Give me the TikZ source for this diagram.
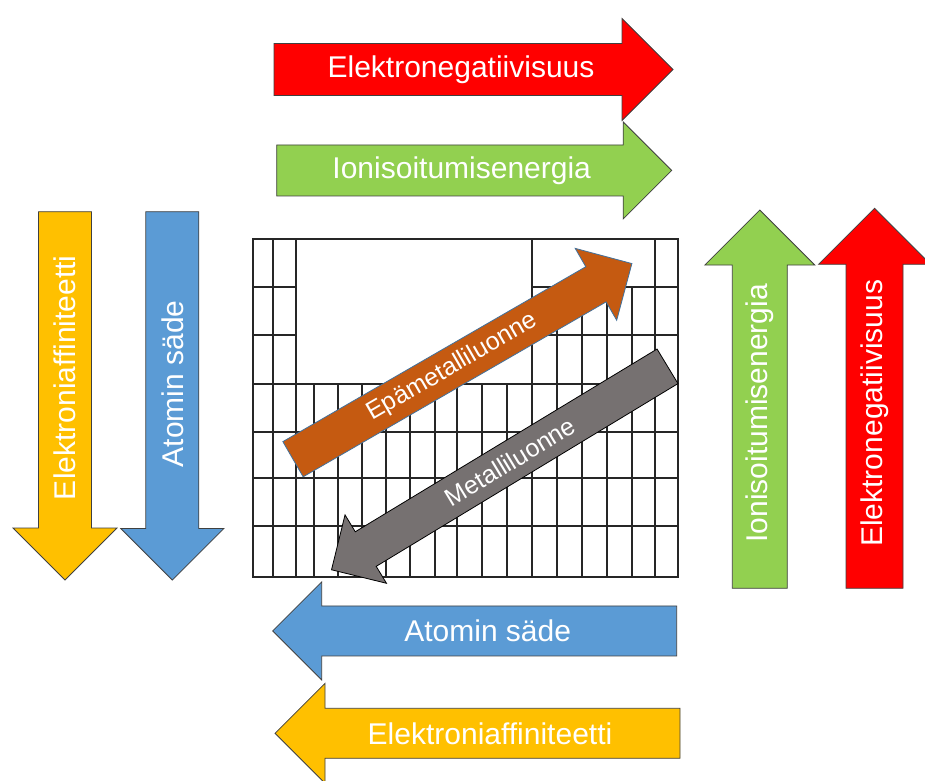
\documentclass[tikz,border=0pt]{standalone}
\usepackage{fontspec}
\setmainfont{Liberation Sans}
\usetikzlibrary{calc}

\definecolor{enred}{HTML}{FF0000}
\definecolor{iegreen}{HTML}{92D050}
\definecolor{eayellow}{HTML}{FFC000}
\definecolor{asblue}{HTML}{5B9BD5}
\definecolor{eporange}{HTML}{C55A11}
\definecolor{megrey}{HTML}{767171}
\definecolor{outblue}{HTML}{41719C}

% block arrow pointing along local x: #1 length, #2 half shaft, #3 half head, #4 style
\newcommand{\blockarrow}[4]{%
  \filldraw[#4] (0,-#2) -- ({#1-#3},-#2) -- ({#1-#3},-#3) -- (#1,0)
    -- ({#1-#3},#3) -- ({#1-#3},#2) -- (0,#2) -- cycle;}

\begin{document}
\begin{tikzpicture}[x=1pt,y=-1pt,
  gridline/.style={draw=black!85,line width=1.2pt},
  arrowbox/.style={draw=black!75,line width=0.8pt},
  arrowtext/.style={text=white,inner sep=0pt,font=\fontsize{30}{36}\selectfont},
  diagtext/.style={text=white,inner sep=0pt,font=\fontsize{25}{30}\selectfont}]

\path[fill=white,use as bounding box] (0,0) rectangle (925,780);

% periodic table
\draw[gridline] (253,239) rectangle (678,577);
\foreach \yy in {384,432,478,526}
  \draw[gridline] (253,\yy) -- (678,\yy);
\foreach \yy in {287,335} {
  \draw[gridline] (253,\yy) -- (296,\yy);
  \draw[gridline] (532,\yy) -- (678,\yy);
}
\foreach \xx in {273,296,532,655}
  \draw[gridline] (\xx,239) -- (\xx,577);
\foreach \xx in {557,582,607,632}
  \draw[gridline] (\xx,287) -- (\xx,577);
\foreach \xx in {314,338,362,386,410,435,457,482,507}
  \draw[gridline] (\xx,384) -- (\xx,577);

% trend arrows round the table
\foreach \nm/\px/\py/\ang/\len/\bw/\hw/\col/\tpos/\trot/\txt in {
  en1/274/69.5/0/399/26/51/enred/187/0/Elektronegatiivisuus,
  ie1/276.7/170.4/0/395/25.5/48.5/iegreen/185/0/Ionisoitumisenergia,
  ea1/65/211.7/-90/368.3/26.5/52/eayellow/166/90/Elektroniaffiniteetti,
  as1/172.3/211.7/-90/368.3/26.5/51.5/asblue/172/90/Atomin säde,
  ie2/759.8/588.3/90/378.3/27.5/55/iegreen/175/90/Ionisoitumisenergia,
  en2/874.5/588.3/90/380/28.5/56/enred/175/90/Elektronegatiivisuus,
  as2/676.7/630.9/180/404/25/49/asblue/189/0/Atomin säde,
  ea2/680/733.3/180/405/25/50/eayellow/190/0/Elektroniaffiniteetti}
{
  \begin{scope}[shift={(\px,\py)},rotate=\ang]
    \blockarrow{\len}{\bw}{\hw}{arrowbox,fill=\col}
    \node[arrowtext,rotate=\trot] (\nm) at (\tpos,0) {\txt};
  \end{scope}
}

% diagonal arrows over the table
\foreach \nm/\px/\py/\ang/\len/\bw/\hw/\col/\ol/\tpos/\trot/\txt in {
  ep1/293/459.2/30/391.3/20.3/41.5/eporange/outblue/184/30/Epämetalliluonne,
  me1/667.5/366.3/211.2/392.8/20.2/40/megrey/black/184/31.2/Metalliluonne}
{
  \begin{scope}[shift={(\px,\py)},rotate=\ang]
    \blockarrow{\len}{\bw}{\hw}{arrowbox,draw=\ol,fill=\col}
    \node[diagtext,rotate=\trot] (\nm) at (\tpos,0) {\txt};
  \end{scope}
}

\end{tikzpicture}
\end{document}
